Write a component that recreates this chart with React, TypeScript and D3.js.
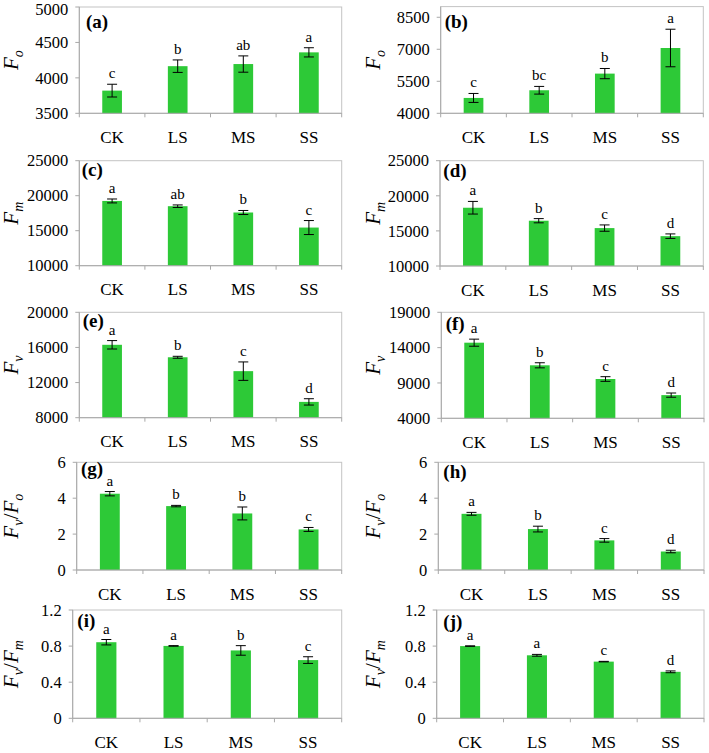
import React from "react";
import * as d3 from "d3";

// ---------- data ----------
const categories = ["CK", "LS", "MS", "SS"];
const panelIds = ["a", "b", "c", "d", "e", "f", "g", "h", "i", "j"];

const foA = [3820, 4165, 4195, 4360];
const foAErr = [90, 88, 115, 65];
const foALetters = ["c", "b", "ab", "a"];
const foB = [4720, 5080, 5860, 7060];
const foBErr = [210, 180, 240, 880];
const foBLetters = ["c", "bc", "b", "a"];

const fmC = [19250, 18500, 17600, 15450];
const fmCErr = [280, 180, 290, 1000];
const fmCLetters = ["a", "ab", "b", "c"];
const fmD = [18300, 16450, 15400, 14250];
const fmDErr = [900, 300, 450, 320];
const fmDLetters = ["a", "b", "c", "d"];

const fvE = [16300, 14880, 13300, 9800];
const fvEErr = [480, 110, 1050, 360];
const fvELetters = ["a", "b", "c", "d"];
const fvF = [14700, 11500, 9560, 7280];
const fvFErr = [500, 360, 330, 300];
const fvFLetters = ["a", "b", "c", "d"];

const fvfoG = [4.25, 3.56, 3.15, 2.26];
const fvfoGErr = [0.12, 0.04, 0.36, 0.11];
const fvfoGLetters = ["a", "b", "b", "c"];
const fvfoH = [3.13, 2.28, 1.65, 1.03];
const fvfoHErr = [0.08, 0.16, 0.1, 0.07];
const fvfoHLetters = ["a", "b", "c", "d"];

const fvfmI = [0.843, 0.802, 0.752, 0.645];
const fvfmIErr = [0.03, 0.003, 0.053, 0.037];
const fvfmILetters = ["a", "a", "b", "c"];
const fvfmJ = [0.8, 0.698, 0.628, 0.515];
const fvfmJErr = [0.003, 0.01, 0.003, 0.01];
const fvfmJLetters = ["a", "a", "c", "d"];

const ticksA = [3500, 4000, 4500, 5000];
const ticksB = [4000, 5500, 7000, 8500];
const ticksFm = [10000, 15000, 20000, 25000];
const ticksE = [8000, 12000, 16000, 20000];
const ticksF = [4000, 9000, 14000, 19000];
const ticksRatioO = [0, 2, 4, 6];
const ticksRatioM = [0, 0.4, 0.8, 1.2];

const domainA = [3500, 5000];
const domainB = [4000, 9000];
const domainFm = [10000, 25000];
const domainE = [8000, 20000];
const domainF = [4000, 19000];
const domainRatioO = [0, 6];
const domainRatioM = [0, 1.2];

// y-axis titles: [main, sub] pairs
const titleFo = [["F", "o"]];
const titleFm = [["F", "m"]];
const titleFv = [["F", "v"]];
const titleFvFo = [["F", "v"], ["F", "o"]];
const titleFvFm = [["F", "v"], ["F", "m"]];

const panelData = [
  { values: foA, errors: foAErr, letters: foALetters, ticks: ticksA, domain: domainA, title: titleFo },
  { values: foB, errors: foBErr, letters: foBLetters, ticks: ticksB, domain: domainB, title: titleFo },
  { values: fmC, errors: fmCErr, letters: fmCLetters, ticks: ticksFm, domain: domainFm, title: titleFm },
  { values: fmD, errors: fmDErr, letters: fmDLetters, ticks: ticksFm, domain: domainFm, title: titleFm },
  { values: fvE, errors: fvEErr, letters: fvELetters, ticks: ticksE, domain: domainE, title: titleFv },
  { values: fvF, errors: fvFErr, letters: fvFLetters, ticks: ticksF, domain: domainF, title: titleFv },
  { values: fvfoG, errors: fvfoGErr, letters: fvfoGLetters, ticks: ticksRatioO, domain: domainRatioO, title: titleFvFo },
  { values: fvfoH, errors: fvfoHErr, letters: fvfoHLetters, ticks: ticksRatioO, domain: domainRatioO, title: titleFvFo },
  { values: fvfmI, errors: fvfmIErr, letters: fvfmILetters, ticks: ticksRatioM, domain: domainRatioM, title: titleFvFm },
  { values: fvfmJ, errors: fvfmJErr, letters: fvfmJLetters, ticks: ticksRatioM, domain: domainRatioM, title: titleFvFm },
];

// ---------- layout (positions of each plot area) ----------
const layout = [
  { x0: 79.3, x1: 341.7, y0: 7, y1: 113.3, lx: 86, ly: 28.3, tx: 18 },
  { x0: 440.7, x1: 703.3, y0: 6.6, y1: 113.3, lx: 444.7, ly: 28.3, tx: 380 },
  { x0: 79.3, x1: 341.7, y0: 160.7, y1: 265.7, lx: 81.7, ly: 175.7, tx: 18 },
  { x0: 440, x1: 703.3, y0: 160.7, y1: 266, lx: 443.3, ly: 176.7, tx: 380 },
  { x0: 79.3, x1: 341.7, y0: 312.3, y1: 417.7, lx: 82.7, ly: 327.3, tx: 18 },
  { x0: 441.3, x1: 704, y0: 312.3, y1: 418.3, lx: 445.7, ly: 330, tx: 380 },
  { x0: 76.7, x1: 341.7, y0: 462.3, y1: 570, lx: 81, ly: 475, tx: 18 },
  { x0: 438.3, x1: 704, y0: 462.3, y1: 570, lx: 443.3, ly: 478.3, tx: 380 },
  { x0: 72.7, x1: 341.7, y0: 610, y1: 718.3, lx: 77.3, ly: 626.7, tx: 18 },
  { x0: 436.7, x1: 704, y0: 610, y1: 718.3, lx: 443.3, ly: 628.3, tx: 380 },
];

const FONT = "'Liberation Serif', 'Times New Roman', serif";
const BAR = "#2dc937";
const BORDER = "#c4c4c4";
const AXIS = "#a8a8a8";
const TICK_FS = 16.5;

function Panel({ idx }: { idx: number }) {
  const d = panelData[idx];
  const L = layout[idx];
  const x = d3.scaleBand<string>().domain(categories).range([L.x0, L.x1]).paddingInner(0).paddingOuter(0);
  const y = d3.scaleLinear().domain(d.domain).range([L.y1, L.y0]);
  const bw = x.bandwidth() * 0.3;
  const cap = 10;
  const boundaries = [L.x0, ...categories.map((c) => (x(c) as number) + x.bandwidth())];
  const yMid = (L.y0 + L.y1) / 2;

  return (
    <g>
      <rect x={L.x0} y={L.y0} width={L.x1 - L.x0} height={L.y1 - L.y0} fill="none" stroke={BORDER} strokeWidth={1} />
      {categories.map((c, i) => {
        const cx = (x(c) as number) + x.bandwidth() / 2;
        const v = d.values[i];
        const e = d.errors[i];
        const top = y(v + e);
        const bot = y(v - e);
        return (
          <g key={c}>
            <rect x={cx - bw / 2} y={y(v)} width={bw} height={L.y1 - y(v)} fill={BAR} />
            <line x1={cx} x2={cx} y1={top} y2={bot} stroke="#000" strokeWidth={1} />
            <line x1={cx - cap / 2} x2={cx + cap / 2} y1={top} y2={top} stroke="#000" strokeWidth={1} />
            <line x1={cx - cap / 2} x2={cx + cap / 2} y1={bot} y2={bot} stroke="#000" strokeWidth={1} />
            <text x={cx} y={top - 6} textAnchor="middle" fontFamily={FONT} fontSize={15} fill="#000">
              {d.letters[i]}
            </text>
            <text x={cx} y={L.y1 + 29.5} textAnchor="middle" fontFamily={FONT} fontSize={17} fill="#000">
              {c}
            </text>
          </g>
        );
      })}
      <line x1={L.x0} x2={L.x0} y1={L.y0} y2={L.y1} stroke={AXIS} />
      <line x1={L.x0} x2={L.x1} y1={L.y1} y2={L.y1} stroke={AXIS} />
      {boundaries.map((b, i) => (
        <line key={i} x1={b} x2={b} y1={L.y1} y2={L.y1 + 4} stroke={AXIS} />
      ))}
      {d.ticks.map((t) => {
        const ty = y(t);
        const base = Math.max(ty + TICK_FS * 0.35, TICK_FS * 0.92);
        return (
          <g key={t}>
            <line x1={L.x0 - 4} x2={L.x0} y1={ty} y2={ty} stroke={AXIS} />
            <text x={L.x0 - 11} y={base} textAnchor="end" fontFamily={FONT} fontSize={TICK_FS} fill="#000">
              {String(t)}
            </text>
          </g>
        );
      })}
      <text x={L.lx} y={L.ly} fontFamily={FONT} fontSize={19} fontWeight="bold" fill="#000">
        ({panelIds[idx]})
      </text>
      <text
        transform={`translate(${L.tx},${yMid}) rotate(-90)`}
        textAnchor="middle"
        fontFamily={FONT}
        fontSize={21}
        fontStyle="italic"
        fill="#000"
      >
        {d.title.map((p, k) => (
          <React.Fragment key={k}>
            {k > 0 ? <tspan fontStyle="normal">/</tspan> : null}
            <tspan>{p[0]}</tspan>
            <tspan fontSize={14} dy={5}>{p[1]}</tspan>
            <tspan fontSize={1} dy={-5}> </tspan>
          </React.Fragment>
        ))}
      </text>
    </g>
  );
}

export default function App() {
  return (
    <svg
      width={709}
      height={753}
      viewBox="0 0 709 753"
      style={{ position: "absolute", left: 0, top: 0, background: "#fff" }}
    >
      <rect x={0} y={0} width={709} height={753} fill="#fff" />
      {panelIds.map((id, i) => (
        <Panel key={id} idx={i} />
      ))}
    </svg>
  );
}
